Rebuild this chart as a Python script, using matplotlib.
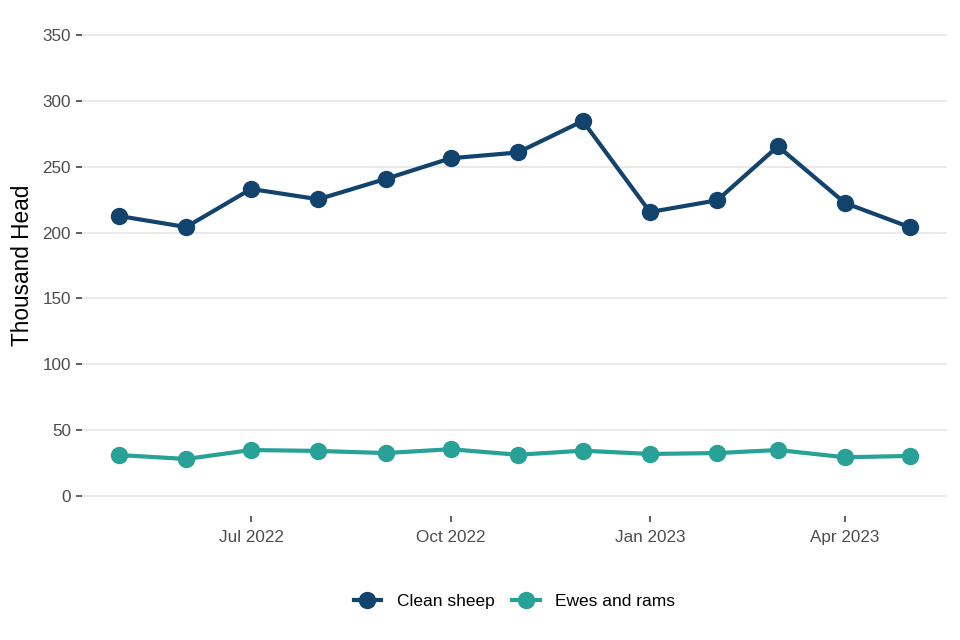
import matplotlib
matplotlib.use("Agg")
import matplotlib.pyplot as plt
import pandas as pd

plt.rcParams['font.family'] = ['Liberation Sans', 'DejaVu Sans']

# Monthly slaughterings, thousand head
months = pd.date_range("2022-05-01", "2023-05-01", freq="MS")
clean_sheep = [212.6, 204.2, 233.1, 225.3, 240.7, 256.4, 260.8, 284.7, 215.6, 224.5, 265.5, 222.4, 204.0]
ewes_rams = [31.1, 28.1, 34.9, 34.2, 32.6, 35.5, 31.3, 34.4, 31.9, 32.6, 34.9, 29.4, 30.4]

tick_dates = pd.to_datetime(["2022-07-01", "2022-10-01", "2023-01-01", "2023-04-01"])
tick_labels = ["Jul 2022", "Oct 2022", "Jan 2023", "Apr 2023"]

fig = plt.figure(figsize=(9.6, 6.4), dpi=100)
ax = fig.add_axes([82 / 960, 1 - 516 / 640, 865 / 960, 501 / 640])

ax.plot(months, clean_sheep, color="#12436D", lw=3.0, marker="o", ms=11.5, label="Clean sheep", zorder=3)
ax.plot(months, ewes_rams, color="#28A197", lw=3.0, marker="o", ms=11.5, label="Ewes and rams", zorder=3)

ax.set_ylim(-15.2, 365.2)
ax.set_yticks(range(0, 351, 50))
pad = pd.Timedelta(days=17)
ax.set_xlim(months[0] - pad, months[-1] + pad)
ax.set_xticks(tick_dates)
ax.set_xticklabels(tick_labels)

ax.grid(axis="y", color="#E6E6E6", lw=1.2)
ax.grid(axis="x", visible=False)
ax.set_axisbelow(True)
for s in ax.spines.values():
    s.set_visible(False)
ax.tick_params(axis="both", length=4, width=1.1, color="#333333", labelcolor="#4D4D4D", labelsize=12.3)
ax.tick_params(axis="y", pad=4)
ax.tick_params(axis="x", pad=6)

ax.set_ylabel("Thousand Head", fontsize=16.3, color="black", labelpad=6)

ax.legend(loc="upper center", bbox_to_anchor=(0.5, -0.125), ncol=2, frameon=False,
          fontsize=12.5, handlelength=1.6, handletextpad=0.9, columnspacing=1.0)

fig.savefig("out.png", dpi=100)
